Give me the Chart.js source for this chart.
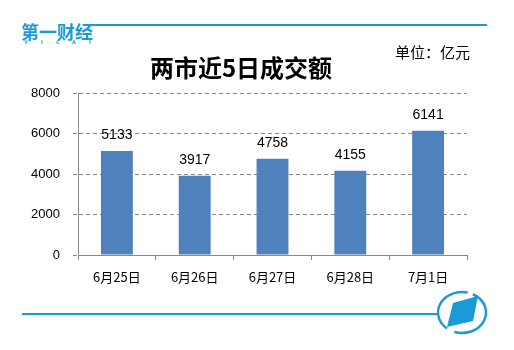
<!DOCTYPE html>
<html>
<head>
<meta charset="utf-8">
<script src="https://cdn.jsdelivr.net/npm/chart.js@4.4.1/dist/chart.umd.min.js"></script>
<style>
  html, body { margin: 0; padding: 0; background: #fff; }
  #wrap { width: 514px; height: 350px; position: relative; }
</style>
</head>
<body>
<div id="wrap"><canvas id="c"></canvas></div>
<script>
const dates = ['6月25日', '6月26日', '6月27日', '6月28日', '7月1日'];
const turnover = [5133, 3917, 4758, 4155, 6141];
const yTicks = [0, 2000, 4000, 6000, 8000];

const BLUE = '#1a9ad6';
const CJK = '"Noto Sans CJK SC", "Noto Sans", sans-serif';
const NUM = '"Liberation Sans", Arial, sans-serif';

// 顶部/底部装饰、标题、单位、数值标签
const decor = {
    id: 'decor',
    afterDraw(chart) {
        const ctx = chart.ctx;
        ctx.save();

        // 顶部线
        ctx.strokeStyle = BLUE;
        ctx.lineWidth = 2;
        ctx.beginPath();
        ctx.moveTo(87, 25);
        ctx.lineTo(487, 25);
        ctx.stroke();

        // logo 文字
        ctx.fillStyle = BLUE;
        ctx.font = 'bold 18px ' + CJK;
        ctx.textBaseline = 'middle';
        ctx.textAlign = 'left';
        ctx.fillText('第一财经', 21, 32);
        ctx.font = 'bold 5px "DejaVu Sans", sans-serif';
        ctx.textAlign = 'center';
        ['Y', 'I', 'C', 'A', 'I'].forEach((l, i) => ctx.fillText(l, 26 + i * 16, 43));

        // 单位
        ctx.fillStyle = '#000';
        ctx.font = '15px ' + CJK;
        ctx.textAlign = 'left';
        ctx.fillText('单位：亿元', 395, 52);

        // 标题
        ctx.font = 'bold 24px ' + CJK;
        ctx.textAlign = 'center';
        ctx.fillText('两市近5日成交额', 241, 68);

        // 数值标签
        const meta = chart.getDatasetMeta(0);
        ctx.font = '14px ' + NUM;
        ctx.textBaseline = 'bottom';
        meta.data.forEach((bar, i) => {
            ctx.fillText(String(turnover[i]), bar.x, bar.y - 9);
        });

        // 底部线
        ctx.strokeStyle = BLUE;
        ctx.fillStyle = BLUE;
        ctx.lineWidth = 2;
        ctx.beginPath();
        ctx.moveTo(22, 314);
        ctx.lineTo(437, 314);
        ctx.stroke();

        // 圆形 logo
        ctx.lineWidth = 2.5;
        ctx.beginPath();
        ctx.ellipse(462, 312.5, 24, 20.5, 0, -1.1, 1.9);
        ctx.stroke();
        ctx.beginPath();
        ctx.ellipse(462, 312.5, 24, 20.5, 0, 2.25, 4.95);
        ctx.stroke();
        ctx.beginPath();
        ctx.moveTo(447, 327);
        ctx.lineTo(453, 303);
        ctx.lineTo(478, 296);
        ctx.lineTo(473, 321);
        ctx.closePath();
        ctx.fill();

        ctx.restore();
    }
};

new Chart(document.getElementById('c'), {
    type: 'bar',
    data: {
        labels: dates,
        datasets: [{
            data: turnover,
            backgroundColor: '#4f81bd',
            categoryPercentage: 1,
            barPercentage: 0.41
        }]
    },
    options: {
        responsive: true,
        maintainAspectRatio: false,
        animation: false,
        layout: { padding: { top: 93, right: 47, bottom: 0, left: 0 } },
        plugins: {
            legend: { display: false },
            tooltip: { enabled: false }
        },
        scales: {
            x: {
                offset: true,
                afterFit(scale) { scale.height = 95; },
                grid: {
                    offset: true,
                    drawOnChartArea: false,
                    tickLength: 5,
                    color: '#888'
                },
                border: { color: '#888', width: 1 },
                ticks: {
                    color: '#000',
                    padding: 9,
                    font: { family: CJK, size: 13 }
                }
            },
            y: {
                min: 0,
                max: 8000,
                afterFit(scale) { scale.width = 78; },
                afterBuildTicks(scale) { scale.ticks = yTicks.map(v => ({ value: v })); },
                grid: {
                    color: '#888',
                    tickLength: 5,
                    tickColor: '#888',
                    tickBorderDash: [4, 3]
                },
                border: { color: '#888', width: 1, dash: [4, 3] },
                ticks: {
                    color: '#000',
                    padding: 13,
                    font: { family: NUM, size: 13 },
                    callback: v => String(v)
                }
            }
        }
    },
    plugins: [decor]
});
</script>
</body>
</html>
